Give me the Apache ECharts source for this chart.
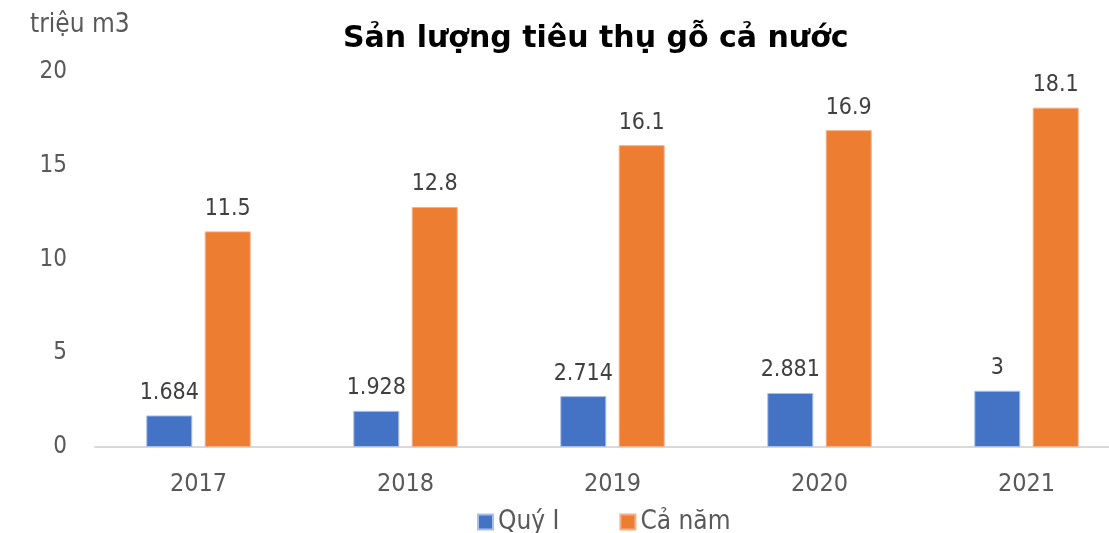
<!DOCTYPE html>
<html><head><meta charset="utf-8">
<script src="https://cdn.jsdelivr.net/npm/echarts@6/dist/echarts.min.js"></script>
<style>html,body{margin:0;padding:0;background:#fff}#c{width:1109px;height:533px}</style>
</head><body><div id="c"></div>
<script>
const categories = ['2017', '2018', '2019', '2020', '2021'];
const quarterOne = [1.684, 1.928, 2.714, 2.881, 3];
const fullYear = [11.5, 12.8, 16.1, 16.9, 18.1];
const seriesNames = ['Quý I', 'Cả năm'];
const yTicks = { min: 0, max: 20, interval: 5 };

const FONT = '"DejaVu Sans Condensed", "DejaVu Sans", sans-serif';
const GREY = '#595959';
const chart = echarts.init(document.getElementById('c'), null, { renderer: 'canvas' });
const labelCfg = { show: true, position: 'top', distance: 11, color: '#404040', fontSize: 23, fontFamily: FONT };
chart.setOption({
  animation: false,
  backgroundColor: '#fff',
  title: {
    text: 'Sản lượng tiêu thụ gỗ cả nước',
    left: 338, top: 19,
    textStyle: { fontFamily: '"DejaVu Sans", sans-serif', fontSize: 30, fontWeight: 'bold', color: '#000' }
  },
  graphic: [{
    type: 'text', left: 30, top: 12,
    style: { text: 'triệu m3', fontFamily: FONT, fontSize: 26, fill: GREY }
  }],
  legend: {
    left: 472, top: 504,
    itemWidth: 15, itemHeight: 15, itemGap: 60,
    icon: 'rect',
    textStyle: { fontFamily: FONT, fontSize: 26, color: GREY },
    data: seriesNames
  },
  grid: { left: 95, width: 1035, top: 72, bottom: 86, containLabel: false, outerBoundsMode: 'none' },
  xAxis: {
    type: 'category', data: categories,
    axisLine: { lineStyle: { color: '#d9d9d9', width: 2 } },
    axisTick: { show: false },
    axisLabel: { margin: 25, fontSize: 25, fontFamily: FONT, color: GREY }
  },
  yAxis: {
    type: 'value', min: yTicks.min, max: yTicks.max, interval: yTicks.interval,
    splitLine: { show: false },
    axisLine: { show: false }, axisTick: { show: false },
    axisLabel: { margin: 28, fontSize: 24, fontFamily: FONT, color: GREY }
  },
  series: [
    { name: seriesNames[0], type: 'bar', data: quarterOne, barWidth: 46, barGap: '27%',
      itemStyle: { color: '#4472C4', borderColor: '#a9bfe6', borderWidth: 1 }, label: labelCfg },
    { name: seriesNames[1], type: 'bar', data: fullYear, barWidth: 46,
      itemStyle: { color: '#ED7D31', borderColor: '#f5b08a', borderWidth: 1 }, label: labelCfg }
  ]
});
</script></body></html>
